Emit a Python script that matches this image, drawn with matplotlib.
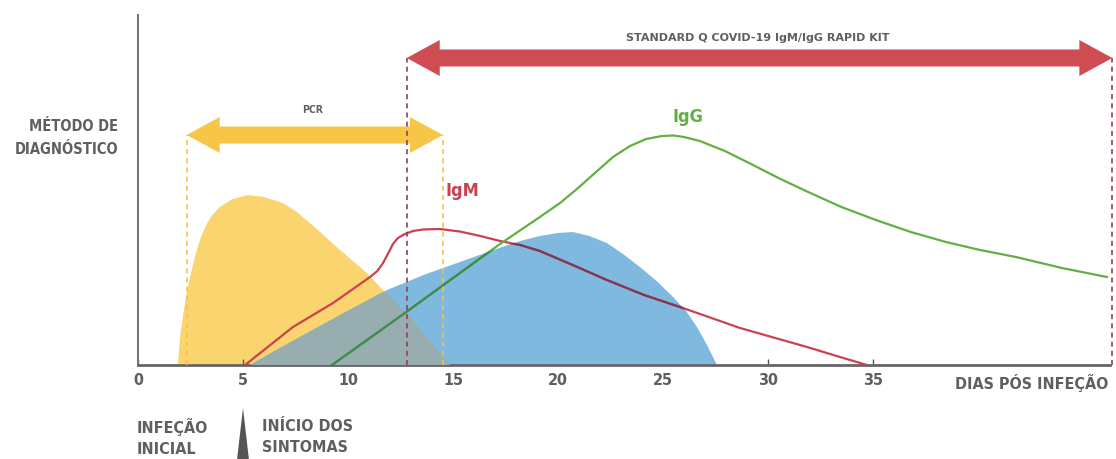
import numpy as np
import matplotlib
matplotlib.use("Agg")
import matplotlib.pyplot as plt
from matplotlib import font_manager

plt.rcParams['font.family'] = ['DejaVu Sans']
plt.rcParams['font.stretch'] = 'condensed'
plt.rcParams['font.weight'] = 'bold'

# dias pós infeção (eixo x) e altura relativa (eixo y)
tick_days = [0, 5, 10, 15, 20, 25, 30, 35]

pcr_x = [1.90, 2.00, 2.15, 2.30, 2.48, 2.65, 2.80, 3.00, 3.25, 3.50, 3.90, 4.50,
         5.24, 6.00, 6.90, 7.50, 8.19, 9.62, 10.90, 11.52, 12.95, 14.14, 14.86]
pcr_y = [0, 28, 50, 70, 88, 103, 115, 128, 140, 149, 158, 166,
         170, 168, 162, 154, 142, 115, 92, 78, 48, 18, 0]

blue_x = [5.33, 6.50, 7.71, 9.80, 11.86, 13.60, 15.33, 17.20, 18.20, 19.14, 20.00,
          20.71, 21.50, 22.33, 23.10, 23.90, 24.70, 25.48, 26.10, 26.62, 27.10, 27.57]
blue_y = [0, 14, 28, 52, 75, 90, 103, 117, 124, 129, 132,
          133, 129, 122, 111, 98, 84, 68, 54, 38, 20, 0]

igm_x = [5.10, 7.38, 9.29, 11.05, 11.40, 11.67, 11.95, 12.14, 12.38, 12.71, 13.10,
         13.57, 14.38, 15.33, 16.30, 17.24, 18.20, 19.14, 20.70, 22.33, 24.10,
         25.95, 28.67, 31.86, 33.43, 34.71]
igm_y = [0, 38, 62, 88, 94, 102, 113, 121, 127, 131, 134,
         135.5, 136, 133.5, 129, 124, 120, 114, 100, 85, 70,
         57, 37, 18, 8, 0]

igg_x = [9.24, 12.71, 15.33, 17.24, 19.00, 20.10, 20.90, 21.76, 22.62, 23.43, 24.20,
         24.95, 25.50, 26.00, 26.76, 27.95, 29.29, 30.50, 31.81, 33.50, 35.14,
         36.80, 38.48, 40.10, 41.81, 44.00, 46.14]
igg_y = [0, 52, 92, 121, 146, 162, 176, 192, 208, 219, 226,
         229, 229.5, 228, 224, 214, 200, 187, 174, 158, 145,
         133, 123, 115, 108, 97, 88]

pcr_range = [2.32, 14.52]
kit_range = [12.80, 46.40]
pcr_level = 230
kit_level = 307

GRAY = '#5f5f5f'
YELLOW = '#f9d46f'
BLUE = '#80b9e0'
OVERLAP = '#97adb0'
RED = '#c9424d'
GREEN = '#62b042'

# fonte estreita, se houver
names = {f.name for f in font_manager.fontManager.ttflist}
condensed = any(f.name == 'DejaVu Sans' and f.stretch in ('condensed', 'semi-condensed', 600, 300)
                for f in font_manager.fontManager.ttflist)
if not condensed:
    plt.rcParams['font.stretch'] = 'normal'
    if 'Liberation Sans Narrow' in names:
        plt.rcParams['font.family'] = ['Liberation Sans Narrow', 'DejaVu Sans']
    else:
        plt.rcParams['font.family'] = ['Liberation Sans', 'DejaVu Sans']


def double_arrow(ax, x0, x1, y, color, shaft=17, head_w=36, head_len=1.57):
    xs = [x0, x0 + head_len, x0 + head_len, x1 - head_len, x1 - head_len, x1,
          x1 - head_len, x1 - head_len, x0 + head_len, x0 + head_len]
    ys = [y, y + head_w / 2, y + shaft / 2, y + shaft / 2, y + head_w / 2, y,
          y - head_w / 2, y - shaft / 2, y - shaft / 2, y - head_w / 2]
    ax.fill(xs, ys, color=color, lw=0, clip_on=False, zorder=5)


fig = plt.figure(figsize=(11.16, 4.59), dpi=100)
ax = fig.add_axes([138 / 1116, 94 / 459, 972 / 1116, 350 / 459])
ax.set_xlim(0, 46.29)
ax.set_ylim(0, 350)

# áreas
yellow_poly = ax.fill(pcr_x, pcr_y, color=YELLOW, lw=0, zorder=1)[0]
blue_poly = ax.fill(blue_x, blue_y, color=BLUE, lw=0, zorder=2)[0]
overlap = ax.fill(blue_x, blue_y, color=OVERLAP, lw=0, zorder=3)[0]
overlap.set_clip_path(yellow_poly)

# curvas de anticorpos (mais escuras por cima da área azul)
ax.plot(igm_x, igm_y, color=RED, lw=1.6, zorder=6, solid_joinstyle='round')
ax.plot(igg_x, igg_y, color=GREEN, lw=1.6, zorder=6, solid_joinstyle='round')
dark_m = ax.plot(igm_x, igm_y, color='#7d3a55', lw=1.6, zorder=6.5, solid_joinstyle='round')[0]
dark_m.set_clip_path(blue_poly)
dark_g = ax.plot(igg_x, igg_y, color='#3f8a4e', lw=1.6, zorder=6.5, solid_joinstyle='round')[0]
dark_g.set_clip_path(blue_poly)

# linhas tracejadas e setas
for xv in pcr_range:
    ax.plot([xv, xv], [0, pcr_level], color='#f3c24a', lw=1.2, ls=(0, (3, 2.5)),
            zorder=7, clip_on=False)
for xv in kit_range:
    ax.plot([xv, xv], [0, kit_level], color='#9a3c55', lw=1.2, ls=(0, (3, 2.5)),
            zorder=7, clip_on=False)

double_arrow(ax, pcr_range[0], pcr_range[1], pcr_level, '#f7c548')
double_arrow(ax, kit_range[0], kit_range[1], kit_level, '#cf4c52')

ax.text(29.5, 327, 'STANDARD Q COVID-19 IgM/IgG RAPID KIT', fontsize=8,
        fontstretch='normal', color=GRAY, ha='center', va='center')
ax.text(8.33, 255, 'PCR', fontsize=7.5, color=GRAY, ha='center', va='center')
ax.text(26.2, 248, 'IgG', fontsize=13, color=GREEN, ha='center', va='center')
ax.text(15.43, 174, 'IgM', fontsize=13, color=RED, ha='center', va='center')

# eixos
for side in ['top', 'right']:
    ax.spines[side].set_visible(False)
ax.spines['left'].set_color('#777777')
ax.spines['left'].set_linewidth(1.5)
ax.spines['bottom'].set_color('#666666')
ax.spines['bottom'].set_linewidth(2)
ax.set_yticks([])
ax.set_xticks(tick_days)
ax.set_xticklabels([str(d) for d in tick_days])
ax.tick_params(axis='x', direction='in', length=4, width=1, color='#555555',
               labelsize=11.5, labelcolor=GRAY, pad=6)

ax.text(46.2, -18, 'DIAS PÓS INFEÇÃO', fontsize=11.5, color=GRAY,
        ha='right', va='center', clip_on=False)
ax.text(-0.95, 227, 'MÉTODO DE\nDIAGNÓSTICO', fontsize=10.5, color=GRAY,
        ha='right', va='center', linespacing=1.6, clip_on=False)
ax.text(-0.05, -72, 'INFEÇÃO\nINICIAL', fontsize=11.5, color=GRAY,
        ha='left', va='center', linespacing=1.5, clip_on=False)
ax.text(5.9, -72, 'INÍCIO DOS\nSINTOMAS', fontsize=11.5, color=GRAY,
        ha='left', va='center', linespacing=1.5, clip_on=False)
ax.fill([4.72, 5.0, 5.28], [-94, -43, -94], color='#555555', lw=0, clip_on=False)

fig.savefig('out.png', dpi=100)
